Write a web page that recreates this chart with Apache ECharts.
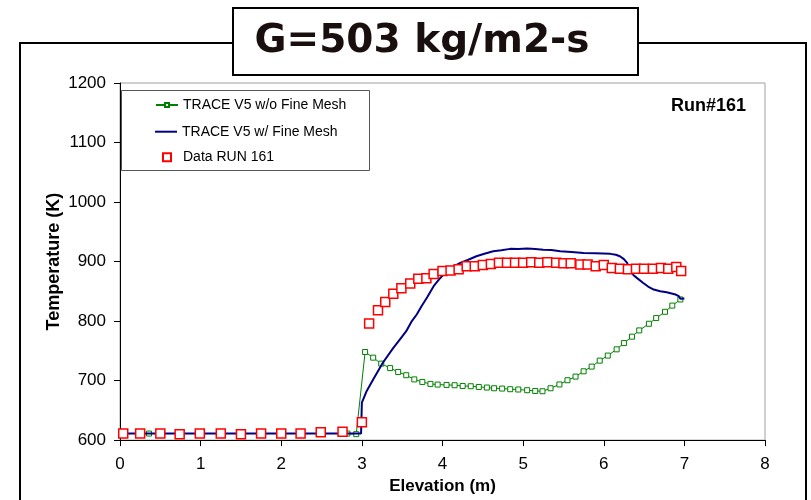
<!DOCTYPE html>
<html><head><meta charset="utf-8">
<script src="https://cdn.jsdelivr.net/npm/echarts@6/dist/echarts.min.js"></script>
<style>html,body{margin:0;padding:0;background:#fff}#c{width:811px;height:500px}</style>
</head><body><div id="c"></div>
<script>
var titleText = 'G=503 kg/m2-s';
var runLabel = 'Run#161';
var xTicks = [0, 1, 2, 3, 4, 5, 6, 7, 8];
var yTicks = [600, 700, 800, 900, 1000, 1100, 1200];
var seriesNames = ['TRACE V5 w/o Fine Mesh', 'TRACE V5 w/ Fine Mesh', 'Data RUN 161'];

var noFineMesh = [
  [0.03,611],[0.36,611],[2.82,611],[2.93,610],[3.04,748],[3.14,738.5],[3.24,728.5],[3.35,721],
  [3.45,714.5],[3.55,709],[3.65,702],[3.75,697.7],[3.85,694.4],[3.94,693.3],[4.05,692.7],
  [4.15,692.2],[4.25,691],[4.35,690.5],[4.45,689.3],[4.55,688.3],[4.64,687.1],[4.74,686.6],
  [4.84,685.5],[4.94,685],[5.05,683.8],[5.15,682.6],[5.24,682.1],[5.34,687.1],[5.45,693.5],
  [5.55,700.6],[5.65,706.7],[5.75,715.6],[5.85,723.5],[5.95,733.5],[6.05,742],[6.16,752.5],
  [6.25,763],[6.35,773.8],[6.44,784.3],[6.56,795.5],[6.65,805],[6.76,815.6],[6.85,826],[6.95,836.3]
];
var fineMesh = [
  [0,611],[2.99,611],[3.0,663],[3.06,682.6],[3.14,702],[3.26,730],[3.39,755],[3.47,769],
  [3.55,783],[3.62,800],[3.68,811],[3.74,825],[3.81,840],[3.89,858.6],[3.97,872],[4.05,883.8],
  [4.13,891],[4.22,897.8],[4.32,903],[4.42,908.9],[4.52,913],[4.63,917.3],[4.73,919],
  [4.84,921.3],[4.94,921],[5.05,921.8],[5.15,921],[5.25,920],[5.35,919.5],[5.46,917.3],
  [5.6,916],[5.75,914.5],[5.9,914],[6.08,912.9],[6.15,911.5],[6.20,908.9],[6.25,904],
  [6.29,897.8],[6.31,890],[6.33,883.8],[6.37,877],[6.41,872.6],[6.49,864],[6.55,858],
  [6.62,853],[6.7,850],[6.78,848.5],[6.89,844.6],[6.93,842],[6.95,837.5],[7.0,838]
];
var runData = [
  [0.04,611],[0.25,611],[0.5,611],[0.74,610],[0.99,611],[1.25,611],[1.5,610],[1.75,611],
  [2.0,611],[2.24,611],[2.49,613],[2.76,614],[3.0,630],
  [3.09,796],[3.20,818],[3.29,832],[3.39,846],[3.49,855],[3.60,863],[3.70,871],[3.80,872],
  [3.89,879],[4.00,884],[4.10,885],[4.20,887],[4.30,892],[4.40,892],[4.50,894],[4.60,896],
  [4.70,898],[4.80,898],[4.90,898],[5.00,898],[5.10,899],[5.20,898],[5.30,899],[5.41,898],
  [5.50,897],[5.59,897],[5.71,895],[5.80,895],[5.90,892],[6.00,894],[6.10,889],[6.20,888],
  [6.30,887],[6.40,888],[6.50,888],[6.61,888],[6.71,889],[6.80,888],[6.90,891],[6.96,884]
];

var green = '#008000', navy = '#000080', red = '#ff0000';
var chart = echarts.init(document.getElementById('c'), null, {renderer: 'canvas'});
var lf = "'Liberation Sans', Arial, sans-serif";
chart.setOption({
  animation: false,
  backgroundColor: '#fff',
  grid: {left: 120, right: 46, top: 83, bottom: 59, show: true, borderColor: '#a0a0a0', borderWidth: 1},
  xAxis: {
    type: 'value', min: xTicks[0], max: xTicks[xTicks.length-1], interval: 1,
    name: 'Elevation (m)', nameLocation: 'middle', nameGap: 34,
    nameTextStyle: {fontFamily: lf, fontWeight: 'bold', fontSize: 17, color: '#000'},
    axisLine: {lineStyle: {color: '#000', width: 1}},
    axisTick: {length: 6, lineStyle: {color: '#000'}},
    axisLabel: {margin: 16, fontFamily: lf, fontSize: 17, color: '#000', formatter: function (v) { return String(v); }},
    splitLine: {show: false}
  },
  yAxis: {
    type: 'value', min: yTicks[0], max: yTicks[yTicks.length-1], interval: 100,
    name: 'Temperature (K)', nameLocation: 'middle', nameGap: 57, nameRotate: 90, nameMoveOverlap: false,
    nameTextStyle: {fontFamily: lf, fontWeight: 'bold', fontSize: 18, color: '#000'},
    axisLine: {show: true, lineStyle: {color: '#000', width: 1}},
    axisTick: {show: true, length: 6, lineStyle: {color: '#000'}},
    axisLabel: {margin: 14, fontFamily: lf, fontSize: 17, color: '#000', formatter: function (v) { return String(v); }},
    splitLine: {show: false}
  },
  legend: [
    {data: [seriesNames[0]], left: 155, top: 98, padding: 0, itemWidth: 22, itemHeight: 5, itemGap: 0,
     textStyle: {fontFamily: lf, fontSize: 14, color: '#000'}},
    {data: [{name: seriesNames[1], icon: 'rect', itemStyle: {color: navy, borderWidth: 0}}], left: 155, top: 124.7, padding: 0,
     itemWidth: 22, itemHeight: 2, itemGap: 0,
     textStyle: {fontFamily: lf, fontSize: 14, color: '#000'}},
    {data: [{name: seriesNames[2], icon: 'rect'}], left: 162, top: 150.3, padding: 0, itemWidth: 8, itemHeight: 8, itemGap: 0,
     textStyle: {fontFamily: lf, fontSize: 14, color: '#000', padding: [0, 0, 0, 7]}}
  ],
  graphic: [
    {type: 'rect', z: -1, silent: true, shape: {x: 20, y: 43, width: 786, height: 520},
     style: {fill: 'none', stroke: '#000', lineWidth: 2}},
    {type: 'rect', z: 100, silent: true, shape: {x: 233, y: 8, width: 405, height: 67},
     style: {fill: '#fff', stroke: '#000', lineWidth: 2}},
    {type: 'text', z: 101, silent: true, x: 422, y: 42,
     style: {text: titleText, fill: '#1a0f0f', font: "bold 39px 'DejaVu Sans'", textAlign: 'center', textVerticalAlign: 'middle'}},
    {type: 'rect', z: 1, silent: true, shape: {x: 121.5, y: 90.5, width: 248, height: 80},
     style: {fill: '#fff', stroke: '#555', lineWidth: 1}},
    {type: 'text', z: 101, silent: true, x: 746, y: 106.5,
     style: {text: runLabel, fill: '#000', font: "bold 18px 'Liberation Sans'", textAlign: 'right', textVerticalAlign: 'middle'}}
  ],
  series: [
    {name: seriesNames[0], type: 'line', data: noFineMesh, symbol: 'rect', symbolSize: 5, showAllSymbol: true,
     lineStyle: {color: green, width: 1}, itemStyle: {color: '#fff', borderColor: green, borderWidth: 1}, z: 2},
    {name: seriesNames[1], type: 'line', data: fineMesh, symbol: 'none', showSymbol: false,
     lineStyle: {color: navy, width: 2}, itemStyle: {color: navy}, z: 3},
    {name: seriesNames[2], type: 'scatter', data: runData, symbol: 'rect', symbolSize: 9,
     itemStyle: {color: '#fff', borderColor: red, borderWidth: 1.5, opacity: 1}, z: 4}
  ]
});
</script></body></html>
